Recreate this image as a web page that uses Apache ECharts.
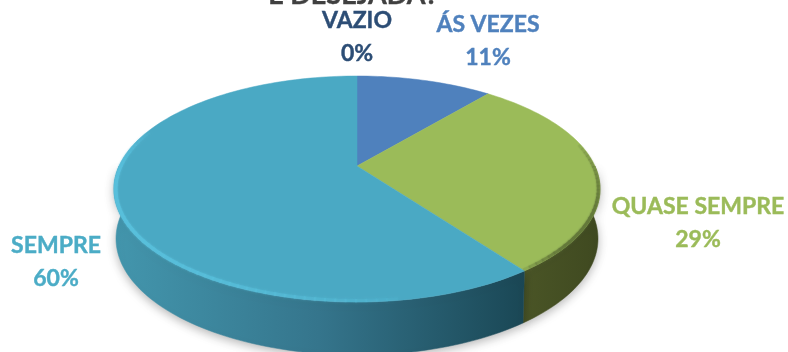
<!DOCTYPE html>
<html><head><meta charset="utf-8">
<style>html,body{margin:0;padding:0;background:#fff}#c{width:788px;height:352px}</style>
<script src="https://cdn.jsdelivr.net/npm/echarts@6/dist/echarts.min.js"></script>
</head><body><div id="c"></div>
<script>
const categories = ['VAZIO', 'ÁS VEZES', 'QUASE SEMPRE', 'SEMPRE'];
const values = [0, 11, 29, 60];
const topColors = ['#1f497d', '#4f81bd', '#9bbb59', '#4aa9c4'];
const labelColors = ['#2c4d75', '#4f81bd', '#9bbb59', '#4bacc6'];
const titleText = 'É DESEJADA?';

const CX = 357, APEX = 166, FAR = 76, NEAR = 302, RX = 243, DEPTH_BOTTOM = 355, DEPTH_RX = 241;
const c0 = ((FAR + NEAR) - 2 * APEX) / (FAR - NEAR);
const a0 = NEAR * (1 + c0) - APEX;
const k0 = RX * Math.sqrt(1 - c0 * c0);
function proj(deg) {
  const t = deg * Math.PI / 180, u = Math.sin(t), v = -Math.cos(t), d = 1 + c0 * v;
  return [CX + k0 * u / d, (a0 * v + APEX) / d];
}
const CY_TOP = (FAR + NEAR) / 2, RY_TOP = (NEAR - FAR) / 2;
function lower(p) {
  const s = DEPTH_RX / RX;
  const ryb = RY_TOP * 1.03, cyb = DEPTH_BOTTOM - ryb;
  return [CX + (p[0] - CX) * s, cyb + (p[1] - CY_TOP) * ryb / RY_TOP];
}
const total = values.reduce((a, b) => a + b, 0);
function arc(a, b) {
  const n = Math.max(2, Math.ceil(Math.abs(b - a) / 1.5)), pts = [];
  for (let i = 0; i <= n; i++) pts.push(proj(a + (b - a) * i / n));
  return pts;
}
function span(i) {
  let s = 0; for (let j = 0; j < i; j++) s += values[j];
  return [s / total * 360, (s + values[i]) / total * 360];
}
const sideColors = [
  null, null,
  { type: 'linear', x: 0, y: 0, x2: 1, y2: 0, colorStops: [{ offset: 0, color: '#4a5526' }, { offset: 1, color: '#3f4920' }] },
  { type: 'linear', x: 0, y: 0, x2: 1, y2: 0, colorStops: [{ offset: 0, color: '#4396ad' }, { offset: 0.5, color: '#35758c' }, { offset: 1, color: '#1a4755' }] }
];
const empty = { type: 'group', children: [] };

function renderSide(params, api) {
  const i = params.dataIndex, v = api.value(0);
  if (!v) return empty;
  const [a, b] = span(i);
  const lo = Math.max(a, 90), hi = Math.min(b, 270);
  if (hi <= lo || !sideColors[i]) return empty;
  const upper = arc(lo, hi), low = upper.map(lower).reverse();
  return { type: 'polygon', shape: { points: upper.concat(low) },
    style: { fill: sideColors[i], stroke: sideColors[i], lineWidth: 0.5, shadowBlur: 10, shadowOffsetY: 3, shadowColor: 'rgba(0,0,0,0.28)' } };
}
function renderTop(params, api) {
  const i = params.dataIndex, v = api.value(0);
  if (!v) return empty;
  const [a, b] = span(i);
  return { type: 'polygon', shape: { points: [[CX, APEX]].concat(arc(a, b)) },
    style: { fill: topColors[i], stroke: topColors[i], lineWidth: 0.5 } };
}
// soft bevel along the near edge of the two front slices
function renderRim(params, api) {
  const i = params.dataIndex, v = api.value(0);
  if (!v) return empty;
  const [a, b] = span(i);
  const cfg = i === 3 ? { lo: 172, hi: 290, peak: 255, color: '#58bfdb', w: 3.5 }
    : i === 2 ? { lo: 78, hi: 144, peak: 125, color: '#64793a', w: 3 } : null;
  if (!cfg) return empty;
  const lo = Math.max(a, cfg.lo), hi = Math.min(b, cfg.hi), kids = [];
  for (let d = lo; d < hi; d += 2) {
    const m = d + 1;
    const f = m < cfg.peak ? (m - cfg.lo) / (cfg.peak - cfg.lo) : (cfg.hi - m) / (cfg.hi - cfg.peak);
    const pts = arc(d, Math.min(d + 2.4, hi)).map(p => [CX + (p[0] - CX) * 0.993, CY_TOP + (p[1] - CY_TOP) * 0.988]);
    kids.push({ type: 'polyline', shape: { points: pts },
      style: { fill: null, stroke: cfg.color, lineWidth: cfg.w, opacity: Math.min(1, 0.1 + 1.1 * f), shadowBlur: 2, shadowColor: cfg.color } });
  }
  return { type: 'group', children: kids };
}

const seriesData = categories.map((name, i) => ({ name, value: values[i] }));
const custom = (fn, z) => ({ type: 'custom', coordinateSystem: 'none', silent: true, z, data: seriesData, renderItem: fn, animation: false });

const labelAnchors = [[357, 37], [488, 41], [698, 223], [56, 262]];
const labels = categories.map((name, i) => ({
  type: 'text', x: labelAnchors[i][0], y: labelAnchors[i][1], z: 20,
  style: { text: name + '\n' + values[i] + '%', fill: labelColors[i], stroke: labelColors[i], lineWidth: 0.4, font: 'bold 23px Lato', lineHeight: 33, align: 'center', verticalAlign: 'middle' }
}));

const chart = echarts.init(document.getElementById('c'), null, { renderer: 'canvas' });
chart.setOption({
  animation: false,
  backgroundColor: '#ffffff',
  series: [custom(renderSide, 1), custom(renderTop, 2), custom(renderRim, 3)],
  graphic: labels.concat([{ type: 'text', x: 353, y: -5, z: 20,
    style: { text: titleText, fill: '#404040', stroke: '#404040', lineWidth: 0.4, font: 'bold 27px Lato', align: 'center', verticalAlign: 'middle' } }])
});
</script></body></html>
